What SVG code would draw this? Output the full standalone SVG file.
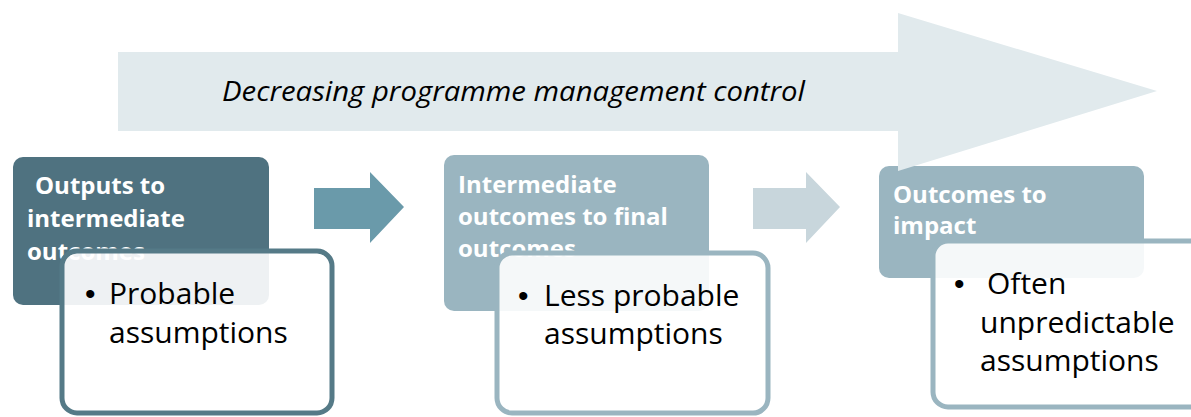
<svg xmlns="http://www.w3.org/2000/svg" width="1191" height="417" viewBox="0 0 1191 417">
<style>
.hdr{font-family:"Open Sans","Liberation Sans",sans-serif;font-weight:bold;font-size:24px;fill:#ffffff}
.body{font-family:"Open Sans","Liberation Sans",sans-serif;font-size:30px;fill:#000000}
.bul{font-family:"Liberation Sans",sans-serif;font-size:30px;fill:#000000}
.title{font-family:"Open Sans","Liberation Sans",sans-serif;font-style:italic;font-size:28px;fill:#000000}
.card{fill:#ffffff;fill-opacity:0.9;stroke-width:5}
</style>
<rect width="1191" height="417" fill="#ffffff"/>
<g id="box1">
<rect x="13" y="157" width="256" height="148" rx="10" fill="#4F7280"/>
<text class="hdr"><tspan x="35" y="194">Outputs to</tspan><tspan x="27" y="227">intermediate</tspan><tspan x="27" y="260">outcomes</tspan></text>
</g>
<g id="box2">
<rect x="444" y="155" width="265" height="156" rx="10" fill="#9AB5C0"/>
<text class="hdr"><tspan x="458" y="193">Intermediate</tspan><tspan x="458" y="225">outcomes to final</tspan><tspan x="458" y="257">outcomes</tspan></text>
</g>
<g id="box3">
<rect x="879" y="166" width="265" height="112" rx="10" fill="#9AB5C0"/>
<text class="hdr"><tspan x="893" y="203">Outcomes to</tspan><tspan x="893" y="234">impact</tspan></text>
</g>
<g id="card1">
<rect class="card" x="62" y="251" width="270" height="162" rx="15" stroke="#557A87"/>
<text class="bul" x="85" y="304">•</text>
<text class="body"><tspan x="109" y="304">Probable</tspan><tspan x="109" y="343">assumptions</tspan></text>
</g>
<g id="card2">
<rect class="card" x="497" y="253" width="271" height="160" rx="15" stroke="#9AB5C0"/>
<text class="bul" x="518" y="306">•</text>
<text class="body"><tspan x="544" y="306">Less probable</tspan><tspan x="544" y="344">assumptions</tspan></text>
</g>
<g id="card3">
<rect class="card" x="933" y="241" width="290" height="166" rx="15" stroke="#9AB5C0"/>
<text class="bul" x="954" y="294">•</text>
<text class="body"><tspan x="987" y="294">Often</tspan><tspan x="980" y="333">unpredictable</tspan><tspan x="980" y="371">assumptions</tspan></text>
</g>
<g id="connectors">
<polygon points="314,188 370,188 370,172 404,207 370,243 370,229 314,229" fill="#6A9AAA"/>
<polygon points="753,188 806,188 806,172 840,207 806,243 806,229 753,229" fill="#C8D6DC"/>
</g>
<g id="control-arrow">
<polygon points="118,52 898,52 898,13 1157,91 898,171 898,131 118,131" fill="#E1EAED"/>
<text class="title" x="222" y="101" textLength="583" lengthAdjust="spacingAndGlyphs">Decreasing programme management control</text>
</g>
</svg>
